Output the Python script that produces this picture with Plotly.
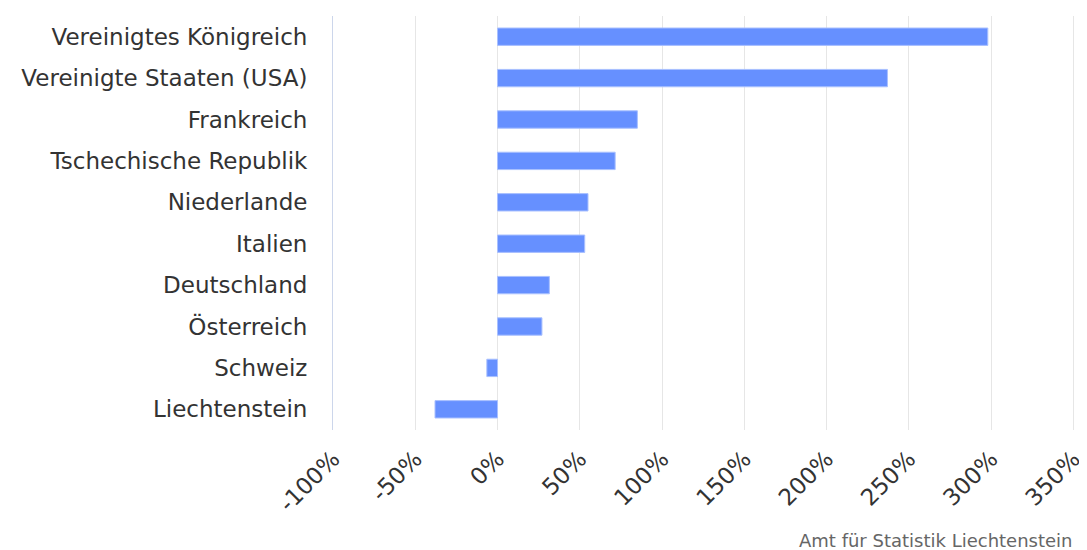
import plotly.graph_objects as go

countries = ["Vereinigtes Königreich", "Vereinigte Staaten (USA)", "Frankreich",
             "Tschechische Republik", "Niederlande", "Italien", "Deutschland",
             "Österreich", "Schweiz", "Liechtenstein"]
values = [298, 237, 85, 71.5, 55, 53, 31.5, 27, -6.5, -38]
tick_vals = [-100, -50, 0, 50, 100, 150, 200, 250, 300, 350]
tick_text = [f"{v}%" for v in tick_vals]
source = "Amt für Statistik Liechtenstein"

fig = go.Figure(go.Bar(
    x=values, y=countries, orientation="h",
    marker=dict(color="#6690FF", line=dict(color="#A9C0FF", width=1)),
    width=0.42,
))
fig.update_layout(
    width=1079, height=542,
    margin=dict(l=325, r=12, t=8, b=120),
    paper_bgcolor="white", plot_bgcolor="white",
    font=dict(family="DejaVu Sans", color="#333333"),
    showlegend=False,
    xaxis=dict(range=[-100, 351], tickvals=tick_vals, ticktext=tick_text,
               tickangle=-45, tickfont=dict(family="DejaVu Sans", size=23, color="#333333"),
               showgrid=True, gridcolor="#E6E6E6", gridwidth=1,
               zeroline=False, showline=False, ticks="", automargin=False,
               ticklabelstandoff=10),
    yaxis=dict(autorange="reversed",
               tickfont=dict(family="DejaVu Sans", size=23, color="#333333"),
               showline=True, linecolor="#CCD6EB", linewidth=1,
               ticks="", showgrid=False, automargin=False,
               ticklabelstandoff=20),
    annotations=[dict(text=source, xref="paper", yref="paper", x=1, y=-0.268,
                      xanchor="right", yanchor="middle", showarrow=False, xshift=0,
                      font=dict(family="DejaVu Sans", size=18, color="#666666"))],
)
fig.write_html("out.html")
